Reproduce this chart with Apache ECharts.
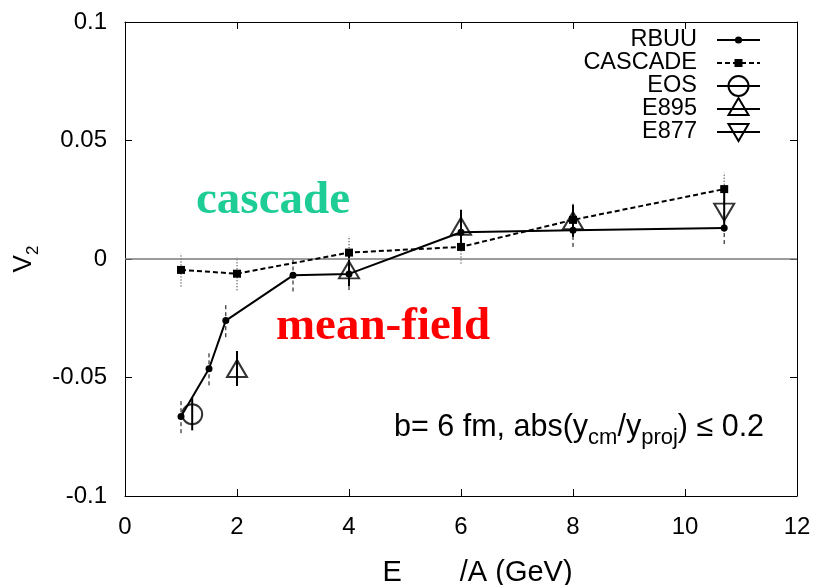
<!DOCTYPE html>
<html>
<head>
<meta charset="utf-8">
<script src="https://cdn.jsdelivr.net/npm/echarts@6/dist/echarts.min.js"></script>
<style>
  html, body { margin: 0; padding: 0; background: #fff; }
  #chart { width: 816px; height: 585px; }
</style>
</head>
<body>
<div id="chart"></div>
<script>
// Elliptic flow v2 versus beam energy: transport models and measurements
const rbuuE   = [1, 1.5, 1.8, 3, 4, 6, 8, 10.7];
const rbuuV2  = [-0.0665, -0.0463, -0.026, -0.0069, -0.0063, 0.0113, 0.0121, 0.0131];
const rbuuErr = [0.007, 0.007, 0.007, 0.0068, 0.0068, 0.0068, 0.007, 0.0068];

const cascE   = [1, 2, 4, 6, 8, 10.7];
const cascV2  = [-0.0046, -0.0062, 0.0027, 0.0051, 0.0165, 0.0295];
const cascErr = [0.007, 0.007, 0.007, 0.007, 0.007, 0.007];

const eosE   = [1.2];
const eosV2  = [-0.0655];
const eosErr = [0.0068];

const e895E   = [2, 4, 6, 8];
const e895V2  = [-0.0462, -0.0046, 0.0138, 0.0162];
const e895Err = [0.0074, 0.0068, 0.007, 0.0068];

const e877E   = [10.7];
const e877V2  = [0.0198];
const e877Err = [0.0082];

const xTicks = [0, 2, 4, 6, 8, 10, 12];
const yTicks = [-0.1, -0.05, 0, 0.05, 0.1];

const legendNames = ['RBUU', 'CASCADE', 'EOS', 'E895', 'E877'];

const FONT = 'Liberation Sans, Arial, sans-serif';

function pairs(xs, ys) { return xs.map((x, i) => [x, ys[i]]); }

function errorBars(name, xs, ys, es, dash, width) {
  return {
    name: name + ' err',
    type: 'custom',
    silent: true,
    z: 3,
    data: xs.map((x, i) => [x, ys[i] - es[i], ys[i] + es[i]]),
    encode: { x: 0, y: [1, 2] },
    renderItem: function (params, api) {
      const x = api.value(0);
      const p1 = api.coord([x, api.value(1)]);
      const p2 = api.coord([x, api.value(2)]);
      return {
        type: 'line',
        shape: { x1: p1[0], y1: p1[1], x2: p2[0], y2: p2[1] },
        style: { stroke: '#000', lineWidth: width, lineDash: dash, fill: null }
      };
    }
  };
}

const chart = echarts.init(document.getElementById('chart'), null, { renderer: 'canvas', width: 816, height: 585 });

const axisCommon = {
  axisLine: { show: true, onZero: false, lineStyle: { color: '#000', width: 1 } },
  axisTick: { show: true, inside: true, length: 7, lineStyle: { color: '#000', width: 1 } },
  splitLine: { show: false }
};

// Legend drawn as graphic rows: text on the left, sample on the right
const legendRowsY = [40, 63, 86, 109, 132];
const legendTextRight = 697, sampleX1 = 717, sampleX2 = 760, sampleCx = 738.5;
const legendGraphics = [];
legendNames.forEach((nm, i) => {
  const y = legendRowsY[i];
  legendGraphics.push({
    type: 'text', silent: true,
    style: { x: legendTextRight, y: y, text: nm, font: '23.5px ' + FONT, fill: '#000', align: 'right', verticalAlign: 'middle' }
  });
  legendGraphics.push({
    type: 'line', silent: true,
    shape: { x1: sampleX1, y1: y, x2: sampleX2, y2: y },
    style: { stroke: '#000', lineWidth: 2, lineDash: nm === 'CASCADE' ? [5, 3] : null }
  });
});
// sample markers
legendGraphics.push({ type: 'circle', silent: true, shape: { cx: sampleCx, cy: legendRowsY[0], r: 3.6 }, style: { fill: '#000' } });
legendGraphics.push({ type: 'rect', silent: true, shape: { x: sampleCx - 4, y: legendRowsY[1] - 4, width: 8, height: 8 }, style: { fill: '#000' } });
legendGraphics.push({ type: 'circle', silent: true, shape: { cx: sampleCx, cy: legendRowsY[2], r: 10 }, style: { fill: 'none', stroke: '#000', lineWidth: 2 } });
legendGraphics.push({ type: 'polygon', silent: true, shape: { points: [[sampleCx, legendRowsY[3] - 11], [sampleCx - 10, legendRowsY[3] + 6], [sampleCx + 10, legendRowsY[3] + 6]] }, style: { fill: 'none', stroke: '#000', lineWidth: 2 } });
legendGraphics.push({ type: 'polygon', silent: true, shape: { points: [[sampleCx, legendRowsY[4] + 9], [sampleCx - 10, legendRowsY[4] - 8], [sampleCx + 10, legendRowsY[4] - 8]] }, style: { fill: 'none', stroke: '#000', lineWidth: 2 } });

const option = {
  backgroundColor: '#fff',
  animation: false,
  grid: { left: 125, right: 19, top: 22, bottom: 89, containLabel: false, outerBoundsMode: 'none' },
  xAxis: [
    Object.assign({}, axisCommon, {
      type: 'value', min: xTicks[0], max: xTicks[xTicks.length - 1], interval: 2,
      position: 'bottom',
      axisLabel: { show: true, margin: 19, color: '#000', fontSize: 24, fontFamily: FONT },
      name: '{a|E}{gap|}{a|/A (GeV)}',
      nameLocation: 'middle', nameGap: 62,
      nameTextStyle: {
        padding: [0, 0, 0, 33],
        rich: {
          a: { fontSize: 29, fontFamily: FONT, color: '#000' },
          gap: { width: 58 }
        }
      }
    }),
    Object.assign({}, axisCommon, {
      type: 'value', min: xTicks[0], max: xTicks[xTicks.length - 1], interval: 2,
      position: 'top', axisLabel: { show: false }
    })
  ],
  yAxis: [
    Object.assign({}, axisCommon, {
      type: 'value', min: yTicks[0], max: yTicks[yTicks.length - 1], interval: 0.05,
      position: 'left',
      axisLabel: { show: true, margin: 18, color: '#000', fontSize: 24, fontFamily: FONT },
      name: '{v|V}{s|2}',
      nameLocation: 'middle', nameGap: 83, nameRotate: 90,
      nameTextStyle: {
        rich: {
          v: { fontSize: 26, fontFamily: FONT, color: '#000', lineHeight: 36 },
          s: { fontSize: 17, fontFamily: FONT, color: '#000', verticalAlign: 'bottom', lineHeight: 17 }
        }
      }
    }),
    Object.assign({}, axisCommon, {
      type: 'value', min: yTicks[0], max: yTicks[yTicks.length - 1], interval: 0.05,
      position: 'right', axisLabel: { show: false }
    })
  ],
  graphic: legendGraphics.concat([
    {
      type: 'text', silent: true,
      style: { x: 273, y: 201, text: 'cascade', font: 'bold 47px Liberation Serif, Times New Roman, serif', fill: '#1ecd96', align: 'center', verticalAlign: 'middle' }
    },
    {
      type: 'text', silent: true,
      style: { x: 383, y: 327, text: 'mean-field', font: 'bold 47px Liberation Serif, Times New Roman, serif', fill: '#ff0000', align: 'center', verticalAlign: 'middle' }
    },
    {
      type: 'text', silent: true,
      style: {
        x: 394, y: 428, align: 'left', verticalAlign: 'middle',
        text: '{t|b= 6 fm, abs(y}{s|cm}{t|/y}{s|proj}{t|) ≤ 0.2}',
        rich: {
          t: { fontSize: 30.5, fontFamily: FONT, fill: '#000', lineHeight: 42 },
          s: { fontSize: 22, fontFamily: FONT, fill: '#000', verticalAlign: 'bottom', lineHeight: 22 }
        }
      }
    }
  ]),
  series: [
    errorBars('RBUU', rbuuE, rbuuV2, rbuuErr, [4, 3], 1),
    errorBars('CASCADE', cascE, cascV2, cascErr, [1, 2], 1),
    errorBars('EOS', eosE, eosV2, eosErr, null, 2),
    errorBars('E895', e895E, e895V2, e895Err, null, 2),
    errorBars('E877', e877E, e877V2, e877Err, null, 2),
    {
      name: 'RBUU', type: 'line', z: 5,
      data: pairs(rbuuE, rbuuV2),
      symbol: 'circle', symbolSize: 7,
      itemStyle: { color: '#000' },
      lineStyle: { color: '#000', width: 2 },
      markLine: {
        silent: true, symbol: 'none', label: { show: false },
        lineStyle: { color: '#7a7a7a', width: 1.5, type: 'solid' },
        data: [{ yAxis: 0 }]
      }
    },
    {
      name: 'CASCADE', type: 'line', z: 5,
      data: pairs(cascE, cascV2),
      symbol: 'rect', symbolSize: 8,
      itemStyle: { color: '#000' },
      lineStyle: { color: '#000', width: 2, type: [5, 3] }
    },
    {
      name: 'EOS', type: 'scatter', z: 6,
      data: pairs(eosE, eosV2),
      symbol: 'circle', symbolSize: 20,
      itemStyle: { color: 'rgba(0,0,0,0)', borderColor: '#000', borderWidth: 2 }
    },
    {
      name: 'E895', type: 'scatter', z: 6,
      data: pairs(e895E, e895V2),
      symbol: 'triangle', symbolSize: [20, 17],
      itemStyle: { color: 'rgba(0,0,0,0)', borderColor: '#000', borderWidth: 2 }
    },
    {
      name: 'E877', type: 'scatter', z: 6,
      data: pairs(e877E, e877V2),
      symbol: 'triangle', symbolSize: [20, 17], symbolRotate: 180,
      itemStyle: { color: 'rgba(0,0,0,0)', borderColor: '#000', borderWidth: 2 }
    }
  ]
};

chart.setOption(option);
</script>
</body>
</html>
